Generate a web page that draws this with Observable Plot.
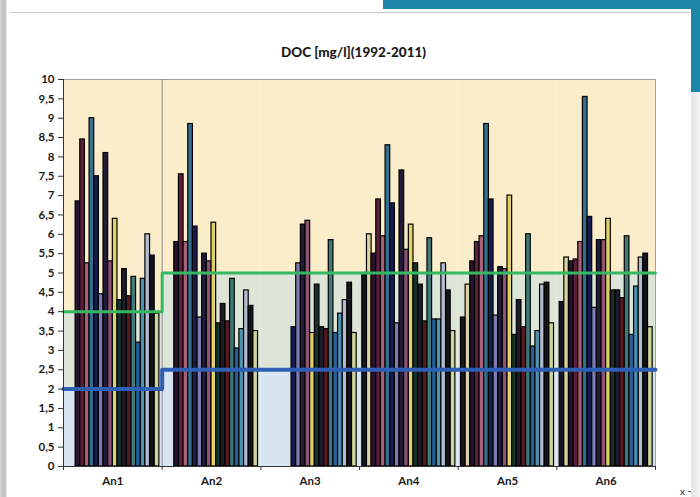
<!DOCTYPE html>
<html>
<head>
<meta charset="utf-8">
<script src="https://cdn.jsdelivr.net/npm/d3@7"></script>
<script src="https://cdn.jsdelivr.net/npm/@observablehq/plot@0.6"></script>
<style>
  html, body { margin: 0; padding: 0; background: #ffffff; overflow: hidden; }
  #wrap { position: relative; width: 700px; height: 497px; }
  #chart { position: absolute; left: 0; top: 0; }
  .deco { position: absolute; }
</style>
</head>
<body>
<div id="wrap">
  <div id="chart"></div>
  <div class="deco" style="left:0;top:0;width:7px;height:497px;background:linear-gradient(90deg,#d8d8d8,#bdbdbd 60%,#e6e6e6);"></div>
  <div class="deco" style="left:10px;top:12px;width:680px;height:1px;background:#c9c9c9;"></div>
  <div class="deco" style="left:383px;top:0;width:317px;height:9px;background:#1c86a8;"></div>
  <div class="deco" style="left:691px;top:0;width:9px;height:92px;background:#1c86a8;"></div>
  <div class="deco" style="left:691px;top:92px;width:9px;height:405px;background:linear-gradient(90deg,#e4e4e4,#f4f4f4);"></div>
</div>
<script>
// ---- data ----
const title = "DOC [mg/l](1992-2011)";
const groups = ["An1", "An2", "An3", "An4", "An5", "An6"];
const years = [1992, 1993, 1994, 1995, 1996, 1997, 1998, 1999, 2000, 2001,
               2002, 2003, 2004, 2005, 2006, 2007, 2008, 2009, 2010, 2011];
const an1 = [null, null, 6.85, 8.45, 5.25, 9.0, 7.5, 4.45, 8.1, 5.3, 6.4, 4.3, 5.1, 4.4, 4.9, 3.2, 4.85, 6.0, 5.45, 3.95];
const an2 = [null, null, 5.8, 7.55, 5.8, 8.85, 6.2, 3.85, 5.5, 5.3, 6.3, 3.7, 4.2, 3.75, 4.85, 3.05, 3.55, 4.55, 4.15, 3.5];
const an3 = [null, null, null, null, null, null, 3.6, 5.25, 6.25, 6.35, 3.45, 4.7, 3.6, 3.55, 5.85, 3.45, 3.95, 4.3, 4.75, 3.45];
const an4 = [5.0, 6.0, 5.5, 6.9, 5.95, 8.3, 6.8, 3.7, 7.65, 5.6, 6.25, 5.25, 4.7, 3.75, 5.9, 3.8, 3.8, 5.25, 4.55, 3.5];
const an5 = [3.85, 4.7, 5.3, 5.8, 5.95, 8.85, 6.9, 3.9, 5.15, 5.1, 7.0, 3.4, 4.3, 3.6, 6.0, 3.1, 3.5, 4.7, 4.75, 3.7];
const an6 = [4.25, 5.4, 5.3, 5.35, 5.8, 9.55, 6.45, 4.1, 5.85, 5.85, 6.4, 4.55, 4.55, 4.35, 5.95, 3.4, 4.65, 5.4, 5.5, 3.6];
const lowLimit = [2, 2.5, 2.5, 2.5, 2.5, 2.5];
const highLimit = [4, 5, 5, 5, 5, 5];
const yTicks = [0, 0.5, 1, 1.5, 2, 2.5, 3, 3.5, 4, 4.5, 5, 5.5, 6, 6.5, 7, 7.5, 8, 8.5, 9, 9.5, 10];
const yearColors = ["#16161f", "#d8d3a0", "#241430", "#5e1f3a", "#a86078",
                    "#33708f", "#161b50", "#7c7cae", "#221a36", "#8e5274",
                    "#e0d26a", "#18302a", "#1c1c28", "#581822", "#3f7a7a",
                    "#285f9a", "#4b93b0", "#b4bcd0", "#141418", "#cfd59a"];

// ---- build tables ----
const series = [an1, an2, an3, an4, an5, an6];
const PAD = 0.0285;
const W = (1 - 2 * PAD) / years.length;
const bars = [];
series.forEach((vals, g) => vals.forEach((v, s) => {
  if (v != null) bars.push({g, s, year: years[s], value: v});
}));
const bands = groups.map((name, g) => ({g, low: lowLimit[g], high: highLimit[g]}));
const stepPts = (arr) => arr.flatMap((v, g) => [{x: g, y: v}, {x: g + 1, y: v}]);

const font = "Lato, 'Liberation Sans', sans-serif";

const chart = Plot.plot({
  width: 700,
  height: 497,
  marginLeft: 63,
  marginRight: 45,
  marginTop: 79,
  marginBottom: 31,
  style: {background: "transparent", fontFamily: font, color: "#1a1a1a"},
  x: {type: "linear", domain: [0, 6], axis: null},
  y: {domain: [0, 10], axis: null},
  color: {type: "ordinal", domain: years, range: yearColors},
  marks: [
    // background bands
    Plot.rect(bands, {x1: d => d.g, x2: d => d.g + 1, y1: d => d.high, y2: () => 10, fill: "#fbedc9"}),
    Plot.rect(bands, {x1: d => d.g, x2: d => d.g + 1, y1: d => d.low, y2: d => d.high, fill: "#dde5d8"}),
    Plot.rect(bands, {x1: d => d.g, x2: d => d.g + 1, y1: () => 0, y2: d => d.low, fill: "#d8e5f1"}),
    // plot frame (top, right) and separator
    Plot.ruleY([10], {stroke: "#a0a0a0", strokeWidth: 1}),
    Plot.ruleX([6], {stroke: "#a0a0a0", strokeWidth: 1}),
    Plot.ruleX([1], {y1: 0, y2: 10, stroke: "#8a8a8a", strokeWidth: 1}),
    // bars
    Plot.rect(bars, {
      x1: d => d.g + PAD + d.s * W,
      x2: d => d.g + PAD + (d.s + 1) * W,
      y1: () => 0,
      y2: "value",
      fill: "year",
      stroke: "#000000",
      strokeWidth: 1.2
    }),
    // limit lines
    Plot.line(stepPts(highLimit), {x: "x", y: "y", stroke: "#35b862", strokeWidth: 3}),
    Plot.line(stepPts(lowLimit), {x: "x", y: "y", stroke: "#2f5fb5", strokeWidth: 4}),
    // axes
    Plot.ruleX([0], {stroke: "#333", strokeWidth: 1}),
    Plot.ruleY([0], {stroke: "#333", strokeWidth: 1.2}),
    Plot.axisY(yTicks, {
      tickSize: 5, tickPadding: 4, tickFormat: d => String(d).replace(".", ","),
      fontWeight: "bold", fontSize: 11.5, stroke: "#333"
    }),
    Plot.axisX([0, 1, 2, 3, 4, 5, 6], {tickSize: 4, tickFormat: () => "", stroke: "#333"}),
    Plot.text(groups, {
      x: (d, i) => i + 0.5, y: () => 0, dy: 15,
      fontWeight: "bold", fontSize: 11.5, fill: "#1a1a1a"
    }),
    Plot.text([title], {frameAnchor: "top", dy: -32, dx: -6, fontWeight: 900, fontSize: 13.5, fill: "#1a1a1a"})
  ]
});
document.getElementById("chart").appendChild(chart);
</script>
</body>
</html>
